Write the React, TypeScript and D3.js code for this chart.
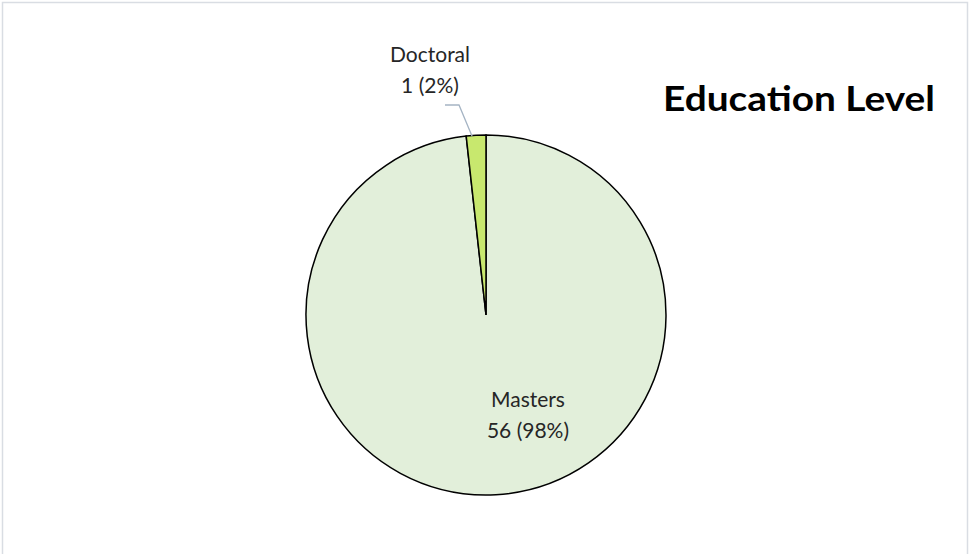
import React from "react";
import * as d3 from "d3";

const categories = ["Masters", "Doctoral"];
const values = [56, 1];
const percentLabels = ["98%", "2%"];
const colors = ["#e2efda", "#c8e86e"];
const title = "Education Level";

const W = 970;
const H = 554;

export default function App() {
  const cx = 486;
  const cy = 315;
  const r = 180;
  const pie = d3.pie<number>().sort(null).value((d) => d)(values);
  const arc = d3.arc<d3.PieArcDatum<number>>().innerRadius(0).outerRadius(r);
  const font = "Lato, 'Open Sans', sans-serif";

  const docAngle = (pie[1].startAngle + pie[1].endAngle) / 2;
  const edge = [cx + Math.sin(docAngle) * r, cy - Math.cos(docAngle) * r];

  const mLabel = { x: cx + 42, y: 407 };
  const dLabel = { x: 430, y: 62 };

  return (
    <div style={{ position: "absolute", left: 0, top: 0 }}>
      <svg width={W} height={H} style={{ display: "block" }}>
        <rect x={0} y={0} width={W} height={H} fill="#ffffff" />
        <path d={`M2.5,${H} V2.5 H967.5 V${H}`} fill="none" stroke="#d9dde3" strokeWidth={1.5} />
        <g transform={`translate(${cx},${cy})`}>
          {pie.map((p, i) => (
            <path key={categories[i]} d={arc(p) || ""} fill={colors[i]} stroke="#000" strokeWidth={1.5} />
          ))}
        </g>
        <polyline
          points={`445,105 459,105 ${edge[0] - 4},${edge[1] + 1}`}
          fill="none"
          stroke="#a5b4c4"
          strokeWidth={1.3}
        />
        <g fontFamily={font} fontSize={21} fill="#262626" textAnchor="middle">
          <text x={dLabel.x} y={dLabel.y}>{categories[1]}</text>
          <text x={dLabel.x} y={dLabel.y + 31}>{`${values[1]} (${percentLabels[1]})`}</text>
          <text x={mLabel.x} y={mLabel.y}>{categories[0]}</text>
          <text x={mLabel.x} y={mLabel.y + 31}>{`${values[0]} (${percentLabels[0]})`}</text>
        </g>
        <text
          x={663}
          y={111}
          fontFamily={font}
          fontWeight="bold"
          fontSize={34}
          fill="#000"
          textLength={272}
          lengthAdjust="spacingAndGlyphs"
        >
          {title}
        </text>
      </svg>
    </div>
  );
}
